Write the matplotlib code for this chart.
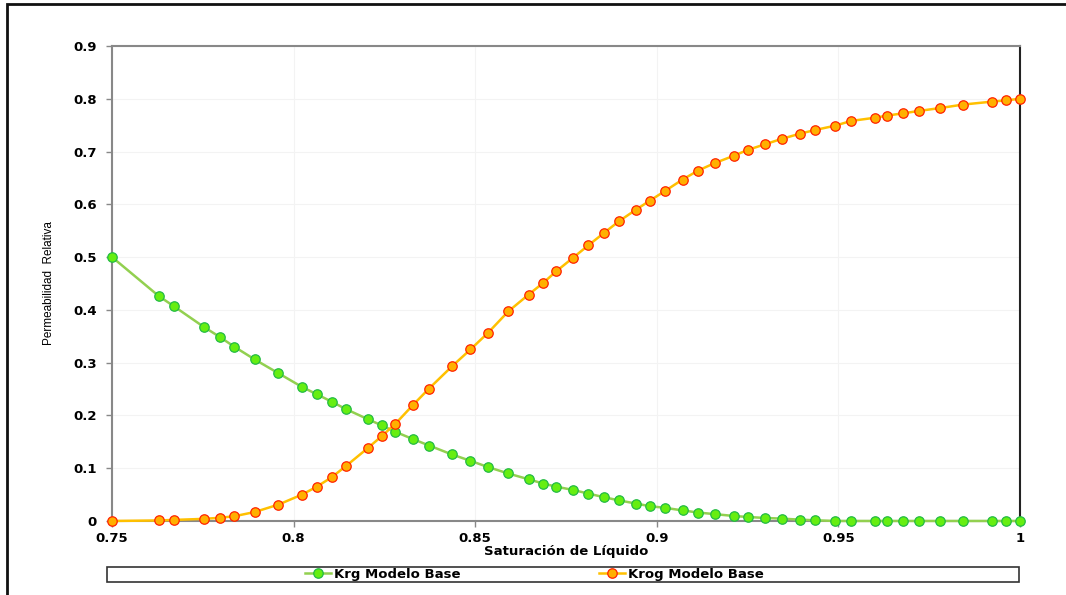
import numpy as np
import matplotlib
matplotlib.use("Agg")
import matplotlib.pyplot as plt
from matplotlib.patches import Rectangle
from matplotlib.ticker import FormatStrFormatter, MultipleLocator

plt.rcParams['font.family'] = ['DejaVu Sans']

# saturacion de liquido (same for both curves)
sl = [0.75, 0.7629, 0.7670, 0.7752, 0.7796, 0.7837, 0.7893, 0.7958, 0.8023, 0.8064,
      0.8105, 0.8144, 0.8204, 0.8243, 0.8280, 0.8329, 0.8373, 0.8436, 0.8487, 0.8536,
      0.8591, 0.8647, 0.8687, 0.8723, 0.8768, 0.8811, 0.8855, 0.8896, 0.8943, 0.8981,
      0.9022, 0.9071, 0.9114, 0.9159, 0.9212, 0.9250, 0.9299, 0.9344, 0.9395, 0.9437,
      0.9491, 0.9535, 0.9600, 0.9633, 0.9679, 0.9722, 0.9781, 0.9843, 0.9922, 0.9961, 1.0]

krg = [0.500, 0.426, 0.407, 0.368, 0.349, 0.330, 0.306, 0.280, 0.254, 0.240,
       0.226, 0.212, 0.193, 0.181, 0.169, 0.155, 0.143, 0.126, 0.114, 0.102,
       0.090, 0.079, 0.071, 0.065, 0.059, 0.052, 0.045, 0.039, 0.033, 0.028,
       0.025, 0.020, 0.016, 0.013, 0.0095, 0.0076, 0.0057, 0.0045, 0.0025, 0.0013,
       0, 0, 0, 0, 0, 0, 0, 0, 0, 0, 0]

krog = [0, 0.001, 0.002, 0.004, 0.006, 0.009, 0.017, 0.031, 0.050, 0.065,
        0.083, 0.104, 0.138, 0.161, 0.184, 0.220, 0.251, 0.293, 0.325, 0.357,
        0.397, 0.429, 0.451, 0.473, 0.498, 0.522, 0.546, 0.568, 0.590, 0.607,
        0.625, 0.647, 0.664, 0.678, 0.692, 0.703, 0.714, 0.724, 0.734, 0.741,
        0.749, 0.758, 0.764, 0.768, 0.7725, 0.777, 0.7825, 0.789, 0.7945, 0.797, 0.800]

fig = plt.figure(figsize=(10.66, 5.95), dpi=100)
ax = fig.add_axes([0.1051, 0.1244, 0.8517, 0.7983])

ax.plot(sl, krg, '-', color='#92d050', lw=1.8, marker='o', ms=6.8,
        mfc='#66ee11', mec='#22bb44', mew=0.9, label='Krg Modelo Base', clip_on=False, zorder=3)
ax.plot(sl, krog, '-', color='#ffc000', lw=1.8, marker='o', ms=6.8,
        mfc='#ffb000', mec='#ff2200', mew=0.9, label='Krog Modelo Base', clip_on=False, zorder=3)

ax.set_xlim(0.75, 1.0)
ax.set_ylim(0, 0.9)
ax.xaxis.set_major_locator(MultipleLocator(0.05))
ax.yaxis.set_major_locator(MultipleLocator(0.1))
ax.xaxis.set_major_formatter(FormatStrFormatter('%g'))
ax.yaxis.set_major_formatter(FormatStrFormatter('%g'))
ax.grid(True, color='#f3f3f3', lw=0.8)
ax.set_axisbelow(True)

for s in ['left', 'bottom', 'top']:
    ax.spines[s].set_color('#888888')
    ax.spines[s].set_linewidth(1.5)
ax.spines['right'].set_color('#222222')
ax.spines['right'].set_linewidth(1.5)

ax.tick_params(axis='both', length=4, width=1, color='#888888', labelsize=9.5)
ax.tick_params(axis='y', pad=7)
ax.tick_params(axis='x', pad=4)
for lab in ax.get_xticklabels() + ax.get_yticklabels():
    lab.set_fontweight('bold')

ax.set_xlabel('Saturación de Líquido', fontsize=9.5, fontweight='bold', labelpad=0)
ax.set_ylabel('Permeabilidad  Relativa', family='Liberation Sans', fontsize=8.5, labelpad=13)

# legend box
fig.patches.append(Rectangle((107 / 1066, 1 - 582 / 595), 912 / 1066, 15 / 595,
                             transform=fig.transFigure, fill=False, ec='#333333', lw=1.2))
fig.legend(loc='center', bbox_to_anchor=(534 / 1066, 1 - 574.5 / 595), ncol=2, frameon=False,
           prop={'size': 9.5, 'weight': 'bold'}, handlelength=2.0, handletextpad=0.2,
           columnspacing=10.5, borderpad=0)

# outer border
fig.patches.append(Rectangle((7 / 1066, -0.05), 1.2, 1 - 4 / 595 + 0.05,
                             transform=fig.transFigure, fill=False, ec='#111111', lw=2))

fig.savefig('out.png', dpi=100)
